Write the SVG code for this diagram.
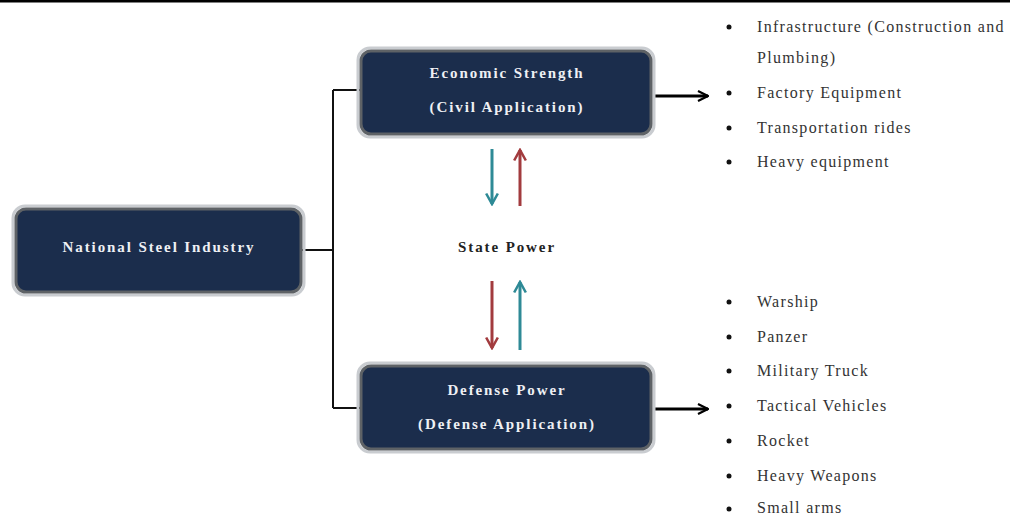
<svg xmlns="http://www.w3.org/2000/svg" width="1010" height="515" viewBox="0 0 1010 515">
<style>
.box{fill:#1b2d4c;stroke:#5e6266;stroke-width:3}
.halo{fill:none;stroke:#c9ccd0;stroke-width:3}
.bt{font-family:"Liberation Serif",serif;font-weight:bold;font-size:15px;letter-spacing:1.9px;fill:#eef0f4;text-anchor:middle}
.sp{font-family:"Liberation Serif",serif;font-weight:bold;font-size:15px;letter-spacing:1.9px;fill:#222;text-anchor:middle}
.li{font-family:"Liberation Serif",serif;font-size:16px;letter-spacing:1.3px;fill:#333}
.conn{fill:none;stroke:#111;stroke-width:2}
</style>
<defs>
<marker id="open" viewBox="0 0 12 12" refX="11" refY="6" markerWidth="12" markerHeight="12" markerUnits="userSpaceOnUse" orient="auto">
<path d="M1,1 L11,6 L1,11" fill="none" stroke="#000" stroke-width="2.2"/>
</marker>
<marker id="tealH" viewBox="0 0 12 12" refX="10" refY="6" markerWidth="14" markerHeight="14" markerUnits="userSpaceOnUse" orient="auto">
<path d="M1,1 L10,6 L1,11" fill="none" stroke="#2e8a96" stroke-width="2.2"/>
</marker>
<marker id="redH" viewBox="0 0 12 12" refX="10" refY="6" markerWidth="14" markerHeight="14" markerUnits="userSpaceOnUse" orient="auto">
<path d="M1,1 L10,6 L1,11" fill="none" stroke="#a23b3e" stroke-width="2.2"/>
</marker>
</defs>
<rect x="0" y="0" width="1010" height="515" fill="#fff"/>
<rect x="0" y="0" width="1010" height="2.5" fill="#000"/>

<g id="connectors">
<path class="conn" d="M302,250 H333 M333,90 V408 M333,90 H362 M333,408 H362"/>
<line x1="653" y1="96" x2="708" y2="96" stroke="#000" stroke-width="3" marker-end="url(#open)"/>
<line x1="653" y1="409" x2="708" y2="409" stroke="#000" stroke-width="3" marker-end="url(#open)"/>
<line x1="492" y1="149" x2="492" y2="204" stroke="#2e8a96" stroke-width="3" marker-end="url(#tealH)"/>
<line x1="520" y1="206" x2="520" y2="150" stroke="#a23b3e" stroke-width="3" marker-end="url(#redH)"/>
<line x1="492" y1="281" x2="492" y2="348" stroke="#a23b3e" stroke-width="3" marker-end="url(#redH)"/>
<line x1="520" y1="350" x2="520" y2="282" stroke="#2e8a96" stroke-width="3" marker-end="url(#tealH)"/>
</g>

<g id="national">
<rect class="halo" x="13" y="206" width="291" height="89" rx="12"/>
<rect class="box" x="16" y="209" width="285" height="83" rx="10"/>
<text class="bt" x="159" y="252">National Steel Industry</text>
</g>

<g id="economic">
<rect class="halo" x="358" y="48" width="296" height="89" rx="12"/>
<rect class="box" x="361" y="51" width="290" height="83" rx="10"/>
<text class="bt" x="507" y="78">Economic Strength</text>
<text class="bt" x="507" y="112">(Civil Application)</text>
</g>

<g id="defense">
<rect class="halo" x="358" y="363" width="296" height="89" rx="12"/>
<rect class="box" x="361" y="366" width="290" height="83" rx="10"/>
<text class="bt" x="507" y="395">Defense Power</text>
<text class="bt" x="507" y="429">(Defense Application)</text>
</g>

<g id="statepower">
<text class="sp" x="507" y="252">State Power</text>
</g>

<g id="civil-list">
<circle cx="729" cy="27" r="2.5" fill="#111"/>
<text class="li" x="757" y="32">Infrastructure (Construction and</text>
<text class="li" x="757" y="63">Plumbing)</text>
<circle cx="729" cy="93" r="2.5" fill="#111"/>
<text class="li" x="757" y="98">Factory Equipment</text>
<circle cx="729" cy="128" r="2.5" fill="#111"/>
<text class="li" x="757" y="133">Transportation rides</text>
<circle cx="729" cy="162" r="2.5" fill="#111"/>
<text class="li" x="757" y="167">Heavy equipment</text>
</g>

<g id="defense-list">
<circle cx="729" cy="302" r="2.5" fill="#111"/>
<text class="li" x="757" y="307">Warship</text>
<circle cx="729" cy="337" r="2.5" fill="#111"/>
<text class="li" x="757" y="342">Panzer</text>
<circle cx="729" cy="371" r="2.5" fill="#111"/>
<text class="li" x="757" y="376">Military Truck</text>
<circle cx="729" cy="406" r="2.5" fill="#111"/>
<text class="li" x="757" y="411">Tactical Vehicles</text>
<circle cx="729" cy="441" r="2.5" fill="#111"/>
<text class="li" x="757" y="446">Rocket</text>
<circle cx="729" cy="476" r="2.5" fill="#111"/>
<text class="li" x="757" y="481">Heavy Weapons</text>
<circle cx="729" cy="509" r="2.5" fill="#111"/>
<text class="li" x="757" y="513">Small arms</text>
</g>
</svg>
